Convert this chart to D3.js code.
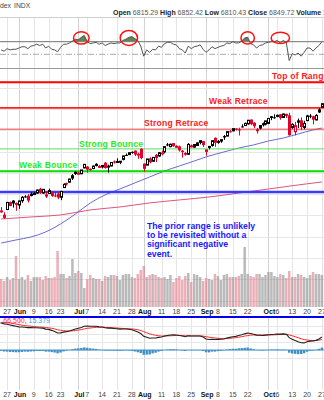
<!DOCTYPE html>
<html><head><meta charset="utf-8">
<script src="https://cdn.jsdelivr.net/npm/d3@7/dist/d3.min.js"></script>
<style>body{margin:0;background:#fff;}svg{display:block;font-family:"Liberation Sans",Arial,sans-serif;}</style>
</head><body><svg id="c" width="324" height="400"></svg>
<script>
// ---- data (trading days 22 May .. 27 Oct) ----
const opens=[5841,5781,5855,5925,5939,5903,5897,5938,5978,5985,5987,6004,6010,6050,6010,5997,6005,6013,5987,6004,
5970,6061,6104,6112,6151,6193,6187,6191,6246,6259,6236,6240,6269,6256,6255,6295,6254,6264,6307,6304,
6306,6326,6368,6371,6397,6409,6378,6427,6287,6272,6336,6309,6369,6358,6390,6397,6467,6446,6479,6446,
6449,6408,6386,6374,6458,6441,6457,6486,6497,6401,6443,6457,6529,6495,6498,6545,6545,6590,6594,6616,
6607,6636,6644,6660,6700,6671,6605,6620,6660,6657,6664,6732,6722,6731,6750,6720,6754,6740,6626,6586,
6693,6693,6626,6690,6737,6732,6697,6772,6815.29];
const highs=[5878,5829,5924,5930,5943,5922,5937,5981,5990,5999,6017,6022,6044,6059,6045,6026,6051,6024,6018,6018,
6026,6101,6108,6146,6188,6215,6210,6227,6284,6263,6242,6269,6290,6274,6272,6302,6277,6299,6316,6336,
6311,6360,6381,6395,6401,6410,6390,6428,6288,6330,6346,6349,6376,6396,6409,6446,6481,6473,6481,6459,
6456,6413,6394,6479,6466,6468,6487,6508,6497,6416,6453,6502,6533,6508,6513,6555,6592,6601,6616,6619,
6624,6656,6672,6695,6702,6675,6621,6649,6673,6689,6711,6733,6750,6747,6753,6755,6755,6764,6665,6679,
6710,6720,6689,6744,6752,6737,6752,6807,6852.42];
const lows=[5825,5767,5854,5886,5873,5843,5862,5918,5966,5921,5978,5994,6001,6002,6003,5964,6005,5974,5971,5953,
5943,6059,6080,6105,6133,6180,6179,6187,6243,6201,6218,6234,6260,6250,6242,6241,6202,6262,6286,6303,
6281,6317,6360,6368,6379,6357,6331,6328,6212,6272,6289,6302,6301,6351,6364,6383,6450,6441,6444,6437,
6400,6343,6361,6370,6438,6437,6453,6468,6443,6361,6419,6445,6444,6473,6482,6509,6545,6579,6592,6598,
6551,6626,6641,6653,6647,6620,6569,6608,6635,6645,6657,6695,6708,6723,6699,6715,6716,6550,6614,6552,
6621,6601,6609,6688,6713,6656,6693,6762,6810.43];
const closes=[5842,5802,5922,5889,5912,5911,5936,5970,5971,5939,6000,6006,6038,6022,6045,5977,6033,5982,5981,5967,
6025,6092,6091,6141,6173,6205,6198,6227,6279,6230,6226,6263,6280,6260,6269,6244,6264,6297,6296,6306,
6309,6359,6363,6389,6390,6371,6362,6339,6238,6330,6299,6345,6340,6389,6374,6446,6466,6469,6450,6449,
6411,6396,6370,6467,6439,6466,6481,6502,6460,6416,6448,6502,6482,6495,6512,6532,6587,6584,6615,6607,
6600,6632,6664,6694,6657,6638,6605,6644,6661,6688,6711,6715,6716,6740,6715,6753,6735,6553,6655,6644,
6671,6630,6664,6735,6736,6699,6739,6792,6849.72];
const volumes=[2800,2600,3000,2700,2900,5100,2800,3000,2700,3200,2600,3000,3000,3000,2700,3100,2900,2900,3000,5600,
3300,3300,2900,3100,4800,3400,3600,3400,1900,2800,3200,2900,2800,2800,2600,3100,3000,3200,3200,3100,
2700,3200,3300,3300,3000,2900,3300,3700,4100,3000,3200,3300,3200,3000,2900,3000,2800,3200,2500,2900,
3100,2700,3100,3400,2500,3300,3200,3000,2600,2900,2800,2700,3300,3100,2700,3200,3300,3000,3000,3000,
3100,3300,6000,3300,3100,3000,3300,3300,3000,3200,3500,3500,3100,3000,3300,3200,2900,3600,3000,3000,
3300,3200,3000,2900,3200,3500,3300,3300,3200];
const rsi=[57,55,59,57,58,58,60,62,62,59,63,64,66,64,66,60,63,58,57,54,
61,66,66,68,71,74,73,77,80,70,67,68,69,66,68,64,66,68,67,68,
68,72,74,77,78,75,72,63,47,57,53,58,57,63,61,67,69,69,66,65,
59,57,52,63,59,62,63,65,58,53,57,62,59,61,63,64,68,67,70,68,
68,71,76,77,67,65,60,64,65,68,69,70,70,72,68,72,69,40,51,49,
52,47,53,60,60,55,60,64,70];
const macd=[170,165,162,158,154,150,146,145,144,141,141,140,140,139,138,132,130,124,117,107,
108,113,116,120,126,132,137,142,150,151,150,150,150,146,145,140,138,138,136,134,
132,133,133,131,128,122,114,104,86,80,74,76,76,80,82,88,92,95,96,95,
92,88,84,90,88,88,88,88,82,70,66,68,66,67,68,70,76,80,84,86,
92,96,102,107,104,100,94,93,92,94,96,98,99,101,100,102,100,78,68,60,
52,46,45,52,56,57,61,70,81.879];
const signal=[175,174,172,170,167,164,160,157,154,152,150,148,146,145,144,142,140,137,133,128,
124,122,120,120,121,123,126,129,133,137,139,141,143,144,144,143,142,141,140,139,
137,136,135,134,133,131,128,123,116,109,102,97,93,90,88,88,89,90,91,92,
92,91,90,90,89,89,89,89,88,84,81,78,76,74,73,72,73,74,76,78,
81,84,88,91,94,95,95,95,95,95,95,95,96,97,98,99,99,95,90,84,
78,71,66,63,61,60,60,62,66.5];
const ma50Idx=[0,5,10,15,20,25,30,35,40,45,50,55,60,65,70,75,80,85,90,95,100,105,108];
const ma50=[5540,5569,5597,5644,5719,5813,5916,5992,6048,6105,6161,6217,6264,6311,6358,6396,6433,6462,6499,6527,6565,6603,6621];
const ma200Idx=[0,10,20,30,40,50,60,70,80,90,100,108];
const ma200=[5766,5785,5804,5851,5879,5917,5945,5973,6010,6048,6086,6114];
const levelValues=[7050,6810,6610,6425,6215,6020];
const levelNames=["Top of Range","Weak Retrace","Strong Retrace","Strong Bounce","Weak Bounce",""];
const tickIdx=[2,6,11,16,20,26,29,34,39,44,48,54,59,64,69,73,78,83,90,93,98,103,108];
const tickLabels=["27","Jun","9","16","23","Jul","7","14","21","28","Aug","11","18","25","Sep","8","15","22","Oct","6","13","20","27"];
const priceGrid=[5000,5200,5400,5600,5800,6000,6200,6400,6600,6800,7000];
const circleIdx=[27,43,83,94];
const noteLines=["The prior range is unlikely","to be revisited without a","significant negative","event."];

// ---- scales ----
const svg=d3.select("#c");
const N=closes.length;
const x=d3.scaleLinear().domain([0,108]).range([1.15,321.9]);
const y=d3.scaleLinear().domain([4939,7185]).range([307,68]);
const vy=d3.scaleLinear().domain([0,10000]).range([307,207]);
const ry=d3.scaleLinear().domain([30,70]).range([66.9,41.7]);
const my=d3.scaleLinear().domain([-100,200]).range([365.9,318.3]);

// header
svg.append("text").attr("x",11).attr("y",7.5).attr("text-anchor","end").attr("font-size",6.8).attr("fill","#444").text("S&P 500 Large Cap Index");
svg.append("text").attr("x",14).attr("y",7.5).attr("font-size",6.8).attr("fill","#444").text("INDX");
const hd=svg.append("text").attr("x",113).attr("y",15.3).attr("font-size",7).attr("fill","#222");
[["Open",opens[N-1]],["High",highs[N-1]],["Low",lows[N-1]],["Close",closes[N-1]],["Volume","3.2B"]].forEach(([k,v],i)=>{
  hd.append("tspan").attr("font-weight","bold").text((i?" ":"")+k+" ");
  hd.append("tspan").attr("fill","#555").text(typeof v==="number"?v.toFixed(2):v);
});

// panel frames & grids
const panels=[[17,68],[68,307],[318,390]];
const g=svg.append("g");
panels.forEach(([t,b])=>{
  tickIdx.forEach((ti,k)=>{
    const bold=isNaN(+tickLabels[k]);
    g.append("line").attr("x1",Math.round(x(ti))+0.5).attr("x2",Math.round(x(ti))+0.5).attr("y1",t).attr("y2",b)
      .attr("stroke",bold?"#d2d2d2":"#e6e6e6").attr("stroke-width",1);
  });
});
priceGrid.forEach(p=>{g.append("line").attr("x1",0).attr("x2",324).attr("y1",Math.round(y(p))+0.5).attr("y2",Math.round(y(p))+0.5).attr("stroke","#e6e6e6");});
[[-50],[50],[100],[150]].forEach(([m])=>{g.append("line").attr("x1",0).attr("x2",324).attr("y1",Math.round(my(m))+0.5).attr("y2",Math.round(my(m))+0.5).attr("stroke","#e6e6e6");});
g.append("line").attr("x1",0).attr("x2",324).attr("y1",17.5).attr("y2",17.5).attr("stroke","#cfcfcf");
g.append("line").attr("x1",0).attr("x2",324).attr("y1",68.5).attr("y2",68.5).attr("stroke","#999");

// ---- RSI ----
const rsiPts=rsi.map((v,i)=>[x(i),ry(v)]);
svg.append("clipPath").attr("id","ob").append("rect").attr("x",0).attr("y",0).attr("width",324).attr("height",ry(70));
svg.append("path").attr("clip-path","url(#ob)").attr("d",d3.area().x(d=>d[0]).y0(ry(70)).y1(d=>d[1])(rsiPts)).attr("fill","#5f8552");
svg.append("line").attr("x1",0).attr("x2",324).attr("y1",ry(70)).attr("y2",ry(70)).attr("stroke","#777").attr("stroke-width",1);
svg.append("line").attr("x1",0).attr("x2",324).attr("y1",ry(50)).attr("y2",ry(50)).attr("stroke","#aaa").attr("stroke-dasharray","6,2,1,2");
svg.append("path").attr("d",d3.line()(rsiPts)).attr("fill","none").attr("stroke","#555").attr("stroke-width",1);
const circR=[[7.8,6.2],[8.7,7.5],[6.7,6.2],[9.2,5.7]];
circleIdx.forEach((ci,k)=>{
  svg.append("ellipse").attr("cx",x(ci)).attr("cy",ry(76)).attr("rx",circR[k][0]).attr("ry",circR[k][1])
    .attr("fill","none").attr("stroke","#ff1010").attr("stroke-width",1.5);
});

// ---- volume ----
const isDown=i=>i===0?true:closes[i]<closes[i-1];
svg.append("g").selectAll("rect").data(volumes).join("rect")
  .attr("x",(d,i)=>x(i)-1.25).attr("width",2.5).attr("y",d=>vy(d)).attr("height",d=>vy(0)-vy(d))
  .attr("fill",(d,i)=>isDown(i)?"rgba(220,110,125,0.55)":"rgba(140,140,140,0.6)");

// ---- moving averages ----
svg.append("path").attr("d",d3.line().curve(d3.curveMonotoneX)(ma200.map((v,k)=>[x(ma200Idx[k]),y(v)]))).attr("fill","none").attr("stroke","#e0557a").attr("stroke-width",1);
svg.append("path").attr("d",d3.line().curve(d3.curveMonotoneX)(ma50.map((v,k)=>[x(ma50Idx[k]),y(v)]))).attr("fill","none").attr("stroke","#6a6ad0").attr("stroke-width",1);

// ---- level lines ----
const lvlStyle=[["#ff0000",2],["#ff2020",1.6],["#f04040",1],["#5be05b",1],["#00dd00",2],["#3b3bff",2.6]];
levelValues.forEach((v,k)=>{
  svg.append("line").attr("x1",0).attr("x2",324).attr("y1",y(v)).attr("y2",y(v)).attr("stroke",lvlStyle[k][0]).attr("stroke-width",lvlStyle[k][1]);
});
const lblX=[272,209,144,79,19];
const lblOff=[-3,-4,-3,-2,-3.5];
levelNames.forEach((n,k)=>{ if(!n) return;
  svg.append("text").attr("x",lblX[k]).attr("y",y(levelValues[k])+lblOff[k]).attr("font-size",8.6).attr("font-weight","bold")
    .attr("fill",k<3?"#ff1a1a":"#22ee22").attr("letter-spacing",0.2).text(n);
});

// ---- candles ----
const cg=svg.append("g");
closes.forEach((c,i)=>{
  const o=opens[i],h=highs[i],l=lows[i];
  const col=isDown(i)?"#e0002a":"#000";
  const cx=Math.round(x(i))+0.5;
  cg.append("line").attr("x1",cx).attr("x2",cx).attr("y1",y(h)).attr("y2",y(l)).attr("stroke",col).attr("stroke-width",1);
  const top=y(Math.max(o,c)),bot=y(Math.min(o,c));
  if(c>=o){
    cg.append("rect").attr("x",cx-1).attr("width",2).attr("y",top).attr("height",Math.max(bot-top,1)).attr("fill","#fff").attr("stroke",col).attr("stroke-width",1);
  } else {
    cg.append("rect").attr("x",cx-1.5).attr("width",3).attr("y",top).attr("height",Math.max(bot-top,1)).attr("fill",col);
  }
});

// ---- note ----
noteLines.forEach((t,k)=>{
  svg.append("text").attr("x",147).attr("y",228.5+k*9.4).attr("font-size",8.7).attr("font-weight","bold").attr("fill","#1a1aff").text(t);
});

// ---- date axes ----
[313.5,396.5].forEach(yy=>{
  tickLabels.forEach((t,k)=>{
    const bold=isNaN(+t);
    svg.append("text").attr("x",x(tickIdx[k])+(bold?1:0)).attr("y",yy).attr("text-anchor","middle").attr("font-size",7)
      .attr("font-weight",bold?"bold":"normal").attr("fill",bold?"#111":"#444").text(t);
  });
});

// separator
svg.append("line").attr("x1",0).attr("x2",324).attr("y1",317).attr("y2",317).attr("stroke","#0000ee").attr("stroke-width",2);

// ---- MACD ----
const hist=macd.map((m,i)=>m-signal[i]);
svg.append("g").selectAll("rect").data(hist).join("rect")
  .attr("x",(d,i)=>x(i)-1.2).attr("width",2.4).attr("y",d=>Math.min(my(d),my(0))).attr("height",d=>Math.abs(my(d)-my(0)))
  .attr("fill","#3d8fc4");
svg.append("line").attr("x1",0).attr("x2",324).attr("y1",my(0)).attr("y2",my(0)).attr("stroke","#3d8fc4").attr("stroke-width",1);
svg.append("path").attr("d",d3.line()(signal.map((v,i)=>[x(i),my(v)]))).attr("fill","none").attr("stroke","#ff2a2a").attr("stroke-width",1);
svg.append("path").attr("d",d3.line()(macd.map((v,i)=>[x(i),my(v)]))).attr("fill","none").attr("stroke","#222").attr("stroke-width",1.1);
const ml=svg.append("text").attr("x",50).attr("y",322.5).attr("text-anchor","end").attr("font-size",7);
ml.append("tspan").attr("fill","#222").text("MACD(12,26,9) "+macd[N-1].toFixed(3)+", ");
ml.append("tspan").attr("fill","#ff3030").text(signal[N-1].toFixed(3));
ml.append("tspan").attr("fill","#222").text(", ");
ml.append("tspan").attr("fill","#3d9be0").text(hist[N-1].toFixed(3));
</script></body></html>
